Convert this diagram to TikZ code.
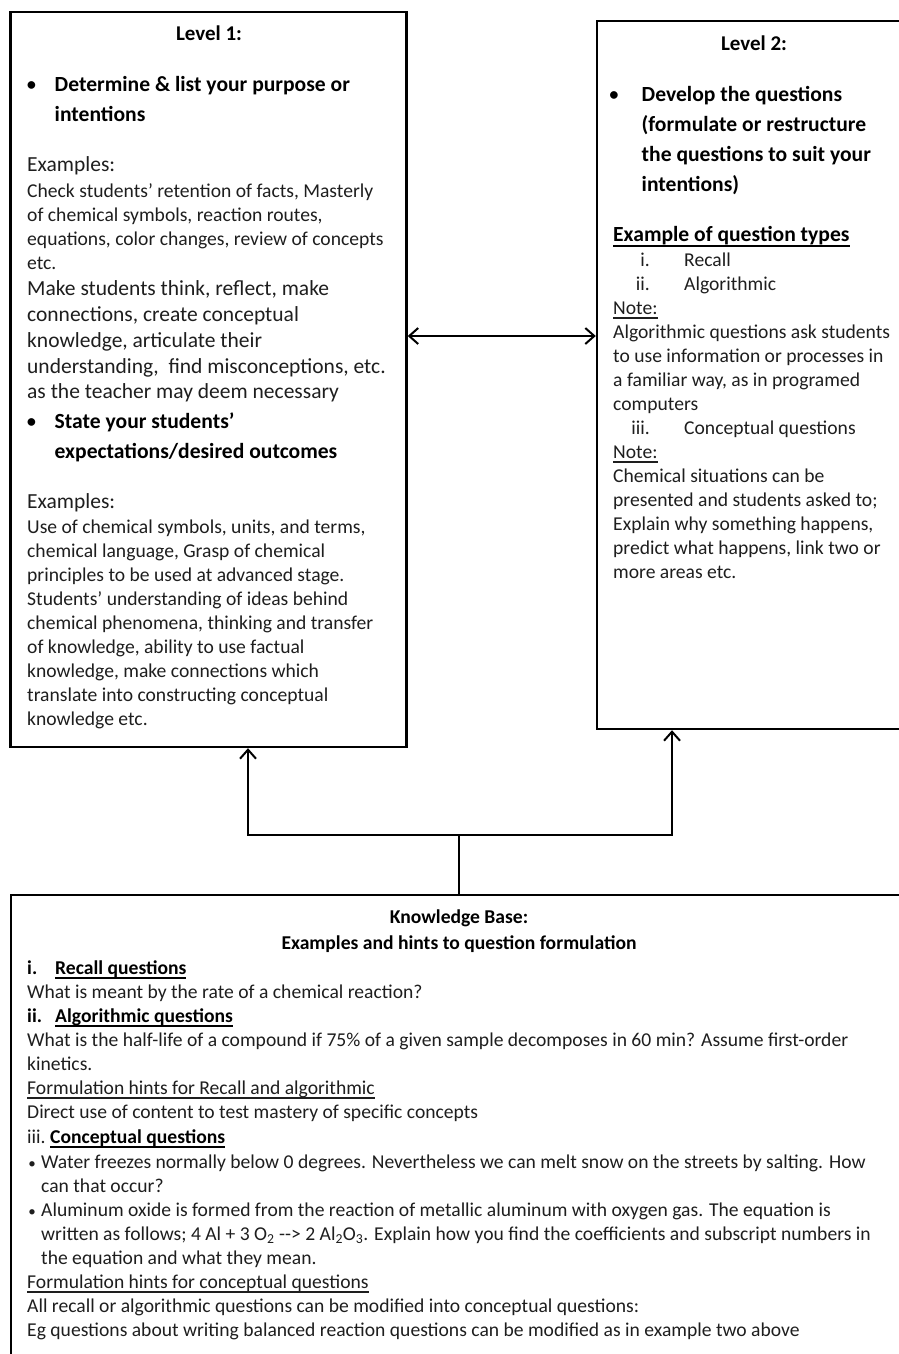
\documentclass[tikz,border=0pt]{standalone}
\usepackage{fontspec}
\setmainfont{Carlito}
\usetikzlibrary{arrows.meta}
\definecolor{textc}{RGB}{30,30,30}
\newcommand\myul[1]{\setbox0\hbox{#1}\rlap{\rule[-0.24em]{\wd0}{0.065em}}\box0}
\begin{document}
\begin{tikzpicture}[x=1pt,y=-1pt,
  box/.style={draw=black,line width=2.4pt,inner sep=0pt,rectangle},
  conn/.style={draw=black,line width=2pt},
  tip/.style={-{Straight Barb[length=9pt,width=16pt]}},
  tx/.style={anchor=base west,inner sep=0pt,text=textc,font=\fontsize{19.6}{24}\selectfont},
  txL/.style={anchor=base west,inner sep=0pt,text=textc,font=\fontsize{21.5}{26}\selectfont},
  bt/.style={anchor=base west,inner sep=0pt,text=black,font=\fontsize{21.6}{26}\selectfont\bfseries},
  bh/.style={anchor=base,inner sep=0pt,text=black,font=\fontsize{21}{26}\selectfont\bfseries},
  bul/.style={anchor=base,inner sep=0pt,text=black,font=\fontsize{21.6}{26}\selectfont},
  kb/.style={anchor=base west,inner sep=0pt,text=textc,font=\fontsize{19.6}{24}\selectfont},
  kbb/.style={anchor=base west,inner sep=0pt,text=black,font=\fontsize{19.6}{24}\selectfont\bfseries},
  kbh/.style={anchor=base,inner sep=0pt,text=black,font=\fontsize{19.6}{24}\selectfont\bfseries},
  kbul/.style={anchor=base,inner sep=0pt,text=textc,font=\fontsize{15}{18}\selectfont},
  rn/.style={anchor=base east,inner sep=0pt,text=textc,font=\fontsize{19.6}{24}\selectfont}
]
\useasboundingbox[fill=white] (0,0) rectangle (898,1354);

% boxes
\node[box,minimum width=396pt,minimum height=735pt] (L1) at (208.5,379.5) {};
\node[box,minimum width=313pt,minimum height=708pt] (L2) at (753.5,375) {};
\node[box,minimum width=896pt,minimum height=475pt] (KB) at (459,1132.5) {};

% connectors
\coordinate (ay) at (0,336);
\coordinate (j) at (459,835);
\coordinate (jl) at (248,835);
\coordinate (jr) at (672,835);
\draw[conn,{Straight Barb[length=9pt,width=16pt]}-{Straight Barb[length=9pt,width=16pt]}] (L1.east |- ay) -- (L2.west |- ay);
\draw[conn] (KB.north) -- (j);
\draw[conn,tip] (j) -- (jl) -- (L1.south -| jl);
\draw[conn,tip] (j) -- (jr) -- (L2.south -| jr);

% Level 1 text
\node[bh] (h1) at (209,40.5) {Level 1:};
\node[bul] (b1a) at (31.5,91.5) {\textbullet};
\node[bt] (a01) at (54.5,91.5) {Determine \& list your purpose or};
\node[bt] (a02) at (54.5,121.5) {intentions};
\node[txL] (a03) at (27,171.5) {Examples:};
\node[tx] (a04) at (27,197) {Check students' retention of facts, Masterly};
\node[tx] (a05) at (27,221) {of chemical symbols, reaction routes,};
\node[tx] (a06) at (27,245) {equations, color changes, review of concepts};
\node[tx] (a07) at (27,269) {etc.};
\node[txL] (a08) at (27,295) {Make students think, reflect, make};
\node[txL] (a09) at (27,321) {connections, create conceptual};
\node[txL] (a10) at (27,347) {knowledge, articulate their};
\node[txL] (a11) at (27,373) {understanding,\ \ find misconceptions, etc.};
\node[txL] (a12) at (27,398.5) {as the teacher may deem necessary};
\node[bul] (b1b) at (31.5,428.5) {\textbullet};
\node[bt] (a13) at (54.5,428.5) {State your students'};
\node[bt] (a14) at (54.5,458.5) {expectations/desired outcomes};
\node[txL] (a15) at (27,508.5) {Examples:};
\node[tx] (a16) at (27,533) {Use of chemical symbols, units, and terms,};
\node[tx] (a17) at (27,557) {chemical language, Grasp of chemical};
\node[tx] (a18) at (27,581) {principles to be used at advanced stage.};
\node[tx] (a19) at (27,605) {Students' understanding of ideas behind};
\node[tx] (a20) at (27,629) {chemical phenomena, thinking and transfer};
\node[tx] (a21) at (27,653) {of knowledge, ability to use factual};
\node[tx] (a22) at (27,677) {knowledge, make connections which};
\node[tx] (a23) at (27,701) {translate into constructing conceptual};
\node[tx] (a24) at (27,725) {knowledge etc.};

% Level 2 text
\node[bh] (h2) at (754,50.5) {Level 2:};
\node[bul] (b2a) at (614,101.5) {\textbullet};
\node[bt] (c01) at (641.5,101.5) {Develop the questions};
\node[bt] (c02) at (641.5,131.5) {(formulate or restructure};
\node[bt] (c03) at (641.5,161.5) {the questions to suit your};
\node[bt] (c04) at (641.5,191.5) {intentions)};
\node[bt] (c05) at (613,241.5) {\myul{Example of question types}};
\node[rn] (r1) at (650,266.5) {i.};
\node[tx] (c06) at (684,266.5) {Recall};
\node[rn] (r2) at (650,290) {ii.};
\node[tx] (c07) at (684,290) {Algorithmic};
\node[tx] (c08) at (613,314) {\myul{Note:}};
\node[tx] (c09) at (613,338) {Algorithmic questions ask students};
\node[tx] (c10) at (613,362) {to use information or processes in};
\node[tx] (c11) at (613,386) {a familiar way, as in programed};
\node[tx] (c12) at (613,410) {computers};
\node[rn] (r3) at (650,434) {iii.};
\node[tx] (c13) at (684,434) {Conceptual questions};
\node[tx] (c14) at (613,458) {\myul{Note:}};
\node[tx] (c15) at (613,482) {Chemical situations can be};
\node[tx] (c16) at (613,506) {presented and students asked to;};
\node[tx] (c17) at (613,530) {Explain why something happens,};
\node[tx] (c18) at (613,554) {predict what happens, link two or};
\node[tx] (c19) at (613,578) {more areas etc.};

% Knowledge base text
\node[kbh] (k01) at (459,923) {Knowledge Base:};
\node[kbh] (k02) at (459,949) {Examples and hints to question formulation};
\node[kbb] (k03a) at (27,974) {i.};
\node[kbb] (k03) at (55,974) {\myul{Recall questions}};
\node[kb] (k04) at (27,998) {What is meant by the rate of a chemical reaction?};
\node[kbb] (k05a) at (27,1022) {ii.};
\node[kbb] (k05) at (55,1022) {\myul{Algorithmic questions}};
\node[kb] (k06) at (27,1046) {What is the half-life of a compound if 75\% of a given sample decomposes in 60 min? Assume first-order};
\node[kb] (k07) at (27,1070) {kinetics.};
\node[kb] (k08) at (27,1094) {\myul{Formulation hints for Recall and algorithmic}};
\node[kb] (k09) at (27,1118) {Direct use of content to test mastery of specific concepts};
\node[kb] (k10a) at (27,1143) {iii.};
\node[kbb] (k10) at (50,1143) {\myul{Conceptual questions}};
\node[kbul] (kb1) at (32,1168) {\textbullet};
\node[kb] (k11) at (41,1168) {Water freezes normally below 0 degrees. Nevertheless we can melt snow on the streets by salting. How};
\node[kb] (k12) at (41,1192) {can that occur?};
\node[kbul] (kb2) at (32,1216) {\textbullet};
\node[kb] (k13) at (41,1216) {Aluminum oxide is formed from the reaction of metallic aluminum with oxygen gas. The equation is};
\node[kb] (k14) at (41,1240) {written as follows; 4 Al + 3 O\textsubscript{2} -{}-> 2 Al\textsubscript{2}O\textsubscript{3}. Explain how you find the coefficients and subscript numbers in};
\node[kb] (k15) at (41,1264) {the equation and what they mean.};
\node[kb] (k16) at (27,1288) {\myul{Formulation hints for conceptual questions}};
\node[kb] (k17) at (27,1312) {All recall or algorithmic questions can be modified into conceptual questions:};
\node[kb] (k18) at (27,1336) {Eg questions about writing balanced reaction questions can be modified as in example two above};
\end{tikzpicture}
\end{document}
